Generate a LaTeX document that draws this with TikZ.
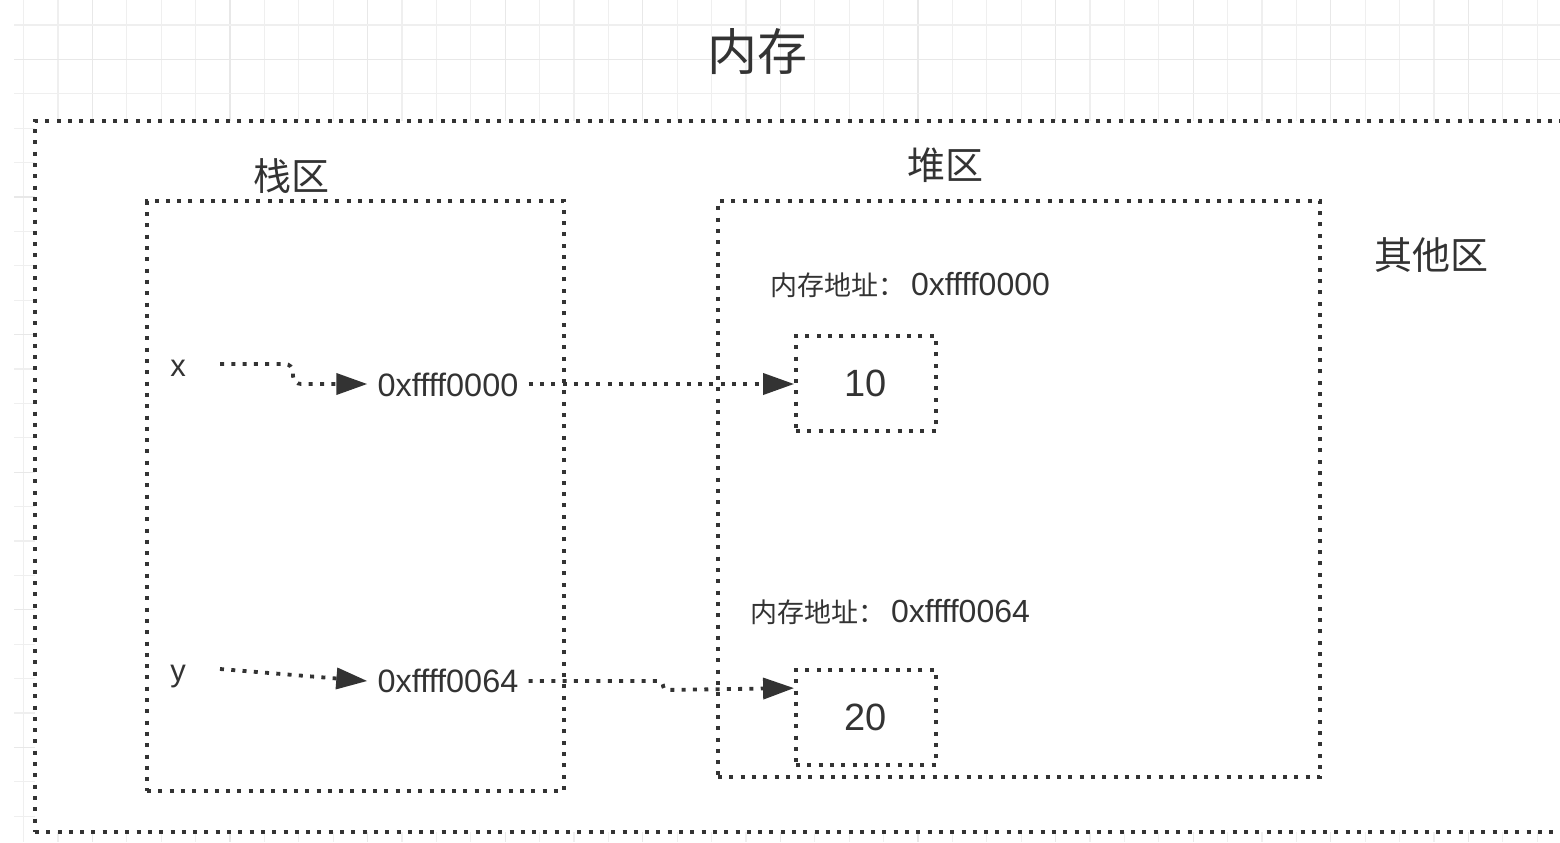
\documentclass[tikz,border=0pt]{standalone}
\usepackage{fontspec}
\setmainfont{Liberation Sans}
\newfontfamily\cjk{Noto Sans CJK SC}
\usetikzlibrary{arrows.meta,calc}
\definecolor{ink}{HTML}{333333}
\definecolor{gridminor}{HTML}{EFEFEF}
\definecolor{gridmajor}{HTML}{E8E8E8}
\begin{document}
\begin{tikzpicture}[x=0.5pt,y=-0.5pt,
  gmin/.style={draw=gridminor,line width=0.6pt},
  gmaj/.style={draw=gridmajor,line width=0.6pt},
  dotline/.style={draw=ink,line width=1.9pt,dash pattern=on 2pt off 3.65pt},
  region/.style={dotline,fill=white,inner sep=0pt},
  arr/.style={dotline,-{Triangle[length=15.5pt,width=10.5pt]}},
  lbl/.style={text=ink,inner sep=0pt},
  addr/.style={text=ink,inner sep=5pt,font=\fontsize{16.2}{17}\selectfont},
  cjklbl/.style={text=ink,inner sep=0pt,font=\cjk\fontsize{19}{20}\selectfont},
  val/.style={region,minimum width=70pt,minimum height=47.5pt,text=ink,font=\fontsize{19}{20}\selectfont},
]
\useasboundingbox (0,0) rectangle (1560,842);
\clip (0,0) rectangle (1560,842);
\fill[white] (0,0) rectangle (1560,842);
% grid
\foreach \k in {0,...,44}{
  \pgfmathsetmacro\gx{23.6+34.4*\k}
  \pgfmathtruncatemacro\m{mod(\k,4)}
  \ifnum\m=2 \draw[gmaj] (\gx,0) -- (\gx,842); \else \draw[gmin] (\gx,0) -- (\gx,842); \fi
}
\foreach \k in {0,...,23}{
  \pgfmathsetmacro\gy{25+34.4*\k}
  \pgfmathtruncatemacro\m{mod(\k,4)}
  \ifnum\m=1 \draw[gmaj] (14,\gy) -- (1560,\gy); \else \draw[gmin] (14,\gy) -- (1560,\gy); \fi
}
% title
\node[lbl,font=\cjk\fontsize{25}{26}\selectfont] (title) at (757,52) {内存};
% regions
\node[region,anchor=north west,minimum width=783.5pt,minimum height=355.5pt] (mem) at (33,119) {};
\node[region,minimum width=208.5pt,minimum height=295pt] (stack) at (355.5,496) {};
\node[region,minimum width=301pt,minimum height=288pt] (heap) at (1019,489) {};
\node[cjklbl] (stacklbl) at (291,176) {栈区};
\node[cjklbl] (heaplbl) at (945,165) {堆区};
\node[cjklbl] (otherlbl) at (1431,255) {其他区};
% heap values
\node[lbl,font=\fontsize{16}{17}\selectfont] (addrlbl0) at (910,285) {{\cjk\fontsize{13.5}{14}\selectfont 内存地址：}\hspace{3pt}0xffff0000};
\node[lbl,font=\fontsize{16}{17}\selectfont] (addrlbl1) at (890,612) {{\cjk\fontsize{13.5}{14}\selectfont 内存地址：}\hspace{3pt}0xffff0064};
\node[val] (v10) at (866,383.5) {10};
\node[val] (v20) at (866,717.5) {20};
% stack variables
\node[lbl,font=\fontsize{15.5}{16}\selectfont] (xv) at (178,368) {x};
\node[lbl,font=\fontsize{15.5}{16}\selectfont] (yv) at (178,677) {y};
\node[addr] (a0) at (448,385) {0xffff0000};
\node[addr] (a1) at (448,681) {0xffff0064};
\coordinate (xbend) at (293,384);
\coordinate (ybend) at (663,690);
% connectors
\draw[arr,rounded corners=4pt] ($(xv.center)+(42,-4)$) -| (xbend) -- (a0.west |- xbend);
\draw[arr] (a0.east |- xbend) -- (v10.west |- xbend);
\draw[arr] ($(yv.center)+(42,-8)$) -- (a1.west);
\draw[arr,rounded corners=2pt] (a1.east) -| (ybend) -- ($(v20.north west)+(0,20)$);
\end{tikzpicture}
\end{document}
